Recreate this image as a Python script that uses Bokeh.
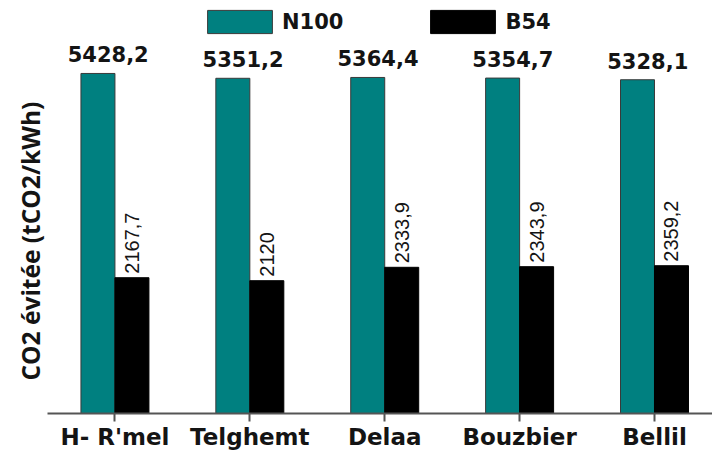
import math

from bokeh.core.properties import value
from bokeh.embed import file_html
from bokeh.models import (ColumnDataSource, FixedTicker, Legend, LegendItem,
                          Range1d, Title)
from bokeh.plotting import figure
from bokeh.resources import INLINE

# Avoided CO2 per site for the two scenarios
sites = ["H- R'mel", "Telghemt", "Delaa", "Bouzbier", "Bellil"]
n100 = [5428.2, 5351.2, 5364.4, 5354.7, 5328.1]
b54 = [2167.7, 2120.0, 2333.9, 2343.9, 2359.2]
series_names = ["N100", "B54"]

TEAL = "#008080"
INK = "#141414"
BOLD_FONT = "DejaVu Sans"


def fmt(v):
    return ("%g" % v).replace(".", ",")


centers = [i + 0.5 for i in range(len(sites))]
half = 0.126

src_n = ColumnDataSource(dict(
    x=[c - half for c in centers],
    xl=[c - 0.05 for c in centers],
    top=n100,
    label=[fmt(v) for v in n100],
))
src_b = ColumnDataSource(dict(
    x=[c + half for c in centers],
    top=b54,
    label=[fmt(v) for v in b54],
))

p = figure(
    width=712, height=453,
    x_range=Range1d(0, 4.93), y_range=Range1d(0, 6593),
    output_backend="svg", toolbar_location=None,
    min_border_left=47, min_border_right=0, min_border_top=0,
    min_border_bottom=40,
)
p.outline_line_color = None
p.xgrid.visible = False
p.ygrid.visible = False
p.yaxis.visible = False

r_n = p.vbar(x="x", top="top", width=0.252, source=src_n,
             fill_color=TEAL, line_color="#3a3a3a", line_width=1)
r_b = p.vbar(x="x", top="top", width=0.252, source=src_b,
             fill_color="black", line_color="black", line_width=1)

# value labels
p.text(x="xl", y="top", text="label", source=src_n,
       text_align="center", text_baseline="alphabetic", y_offset=-19,
       text_font=value(BOLD_FONT), text_font_style="bold",
       text_font_size="21px", text_color=INK)
p.text(x="x", y="top", text="label", source=src_b,
       angle=math.pi / 2, text_align="left", text_baseline="middle",
       y_offset=-4, text_font=value("Liberation Sans"),
       text_font_size="20px", text_color=INK)

# x axis
ax = p.xaxis[0]
ax.ticker = FixedTicker(ticks=centers)
ax.major_label_overrides = {c: s for c, s in zip(centers, sites)}
ax.minor_tick_line_color = None
ax.major_tick_in = 0
ax.major_tick_out = 8
ax.axis_line_color = "#555555"
ax.axis_line_width = 2
ax.major_tick_line_color = "#555555"
ax.major_tick_line_width = 2
ax.major_label_standoff = 2
ax.major_label_text_font = BOLD_FONT
ax.major_label_text_font_style = "bold"
ax.major_label_text_font_size = "23px"
ax.major_label_text_color = INK

# y axis title, anchored at the bottom of the left panel
p.add_layout(Title(
    text="CO2 évitée (tCO2/kWh)", align="left", offset=33, standoff=2,
    text_font="Open Sans", text_font_style="bold",
    text_font_size="24.5px", text_color=INK,
), "left")

legend = Legend(
    items=[LegendItem(label=series_names[0], renderers=[r_n]),
           LegendItem(label=series_names[1], renderers=[r_b])],
    orientation="horizontal", location=(152, 377),
    glyph_width=81, glyph_height=29, label_standoff=2, spacing=79,
    padding=0, margin=0,
    border_line_color=None, background_fill_alpha=0,
    label_text_font=BOLD_FONT, label_text_font_style="bold",
    label_text_font_size="21px", label_text_color=INK,
)
p.add_layout(legend)

open("out.html", "w").write(file_html(p, INLINE))
